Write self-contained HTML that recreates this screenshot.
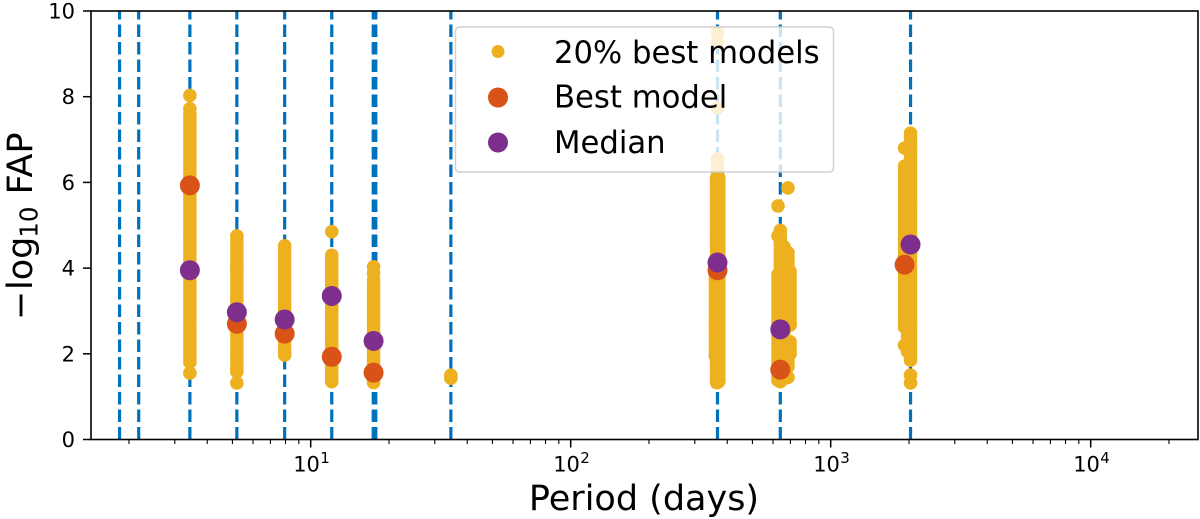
<!DOCTYPE html>
<html lang="en">
<head>
<meta charset="utf-8">
<title>FAP vs Period</title>
<style>
html,body{margin:0;padding:0;background:#fff;width:1200px;height:519px;overflow:hidden}
svg{display:block;font-family:"DejaVu Sans","Liberation Sans",sans-serif}
</style>
</head>
<body>
<svg id="chart" xmlns="http://www.w3.org/2000/svg" width="1200" height="519" viewBox="0 0 1200 519">
  <rect x="0" y="0" width="1200" height="519" fill="#ffffff"/>
  <g id="vlines"></g>
  <g id="scatter"></g>
  <g id="best"></g>
  <g id="median"></g>
  <g id="axes"></g>
  <g>
    <rect x="455.5" y="27" width="378" height="145" rx="4" ry="4" fill="#ffffff" fill-opacity="0.8" stroke="#cccccc" stroke-opacity="0.9" stroke-width="1.5"/>
    <circle cx="498" cy="51.5" r="6.5" fill="#EDB120"/>
    <text x="554" y="63" font-size="30.7" fill="#000">20% best models</text>
    <circle cx="498" cy="97.5" r="10" fill="#D95319"/>
    <text x="554" y="107.5" font-size="30.7" fill="#000">Best model</text>
    <circle cx="498" cy="142.5" r="10" fill="#7E2F8E"/>
    <text x="554" y="153" font-size="30.7" fill="#000">Median</text>
  </g>
  <text x="644" y="510" font-size="35" text-anchor="middle" fill="#000">Period (days)</text>
  <text transform="translate(32,318) rotate(-90)" font-size="35" fill="#000"><tspan x="-2" y="0">−</tspan><tspan x="28" y="0">log</tspan><tspan x="80.3" y="5.5" font-size="24.5">10</tspan><tspan x="123.6" y="0">FAP</tspan></text>
</svg>
<script>
// ---- data ----
const linePeriods = [1.84, 2.18, 3.43, 5.2, 7.94, 12.05, 17.4, 17.8, 34.6, 367, 640, 2028];
const yTicks = [0, 2, 4, 6, 8, 10];
const xDecades = [1, 2, 3, 4];

const bestPeriods = [3.43, 5.2, 7.94, 12.05, 17.45, 367, 640, 1924];
const bestFap = [5.93, 2.7, 2.47, 1.93, 1.56, 3.95, 1.63, 4.08];

const medianPeriods = [3.43, 5.2, 7.94, 12.05, 17.45, 367, 640, 2028];
const medianFap = [3.95, 2.97, 2.8, 3.35, 2.3, 4.13, 2.57, 4.55];

const clusterPeriods = [3.43, 5.2, 7.94, 12.05, 17.45, 34.6, 367, 364, 371.5, 360, 640, 627, 661, 685, 698, 2028, 1924, 1975];
const clusterFaps = [
  [8.03,7.72,7.6,7.5,7.4,7.3,7.2,7.1,7.0,6.9,6.8,6.7,6.6,6.5,6.4,6.3,6.2,6.1,6.0,5.9,5.8,5.7,5.6,5.5,5.4,5.3,5.2,5.1,5.0,4.9,4.8,4.7,4.6,4.5,4.4,4.3,4.2,4.1,4.0,3.9,3.8,3.7,3.6,3.5,3.4,3.3,3.2,3.1,3.0,2.9,2.8,2.7,2.6,2.5,2.4,2.3,2.2,2.1,2.0,1.9,1.8,1.55],
  [4.75,4.65,4.55,4.45,4.35,4.25,4.15,4.05,3.95,3.85,3.75,3.65,3.55,3.45,3.35,3.25,3.15,3.05,2.95,2.85,2.75,2.65,2.55,2.45,2.35,2.25,2.15,2.05,1.95,1.85,1.75,1.65,1.58,1.32],
  [4.52,4.42,4.32,4.22,4.12,4.02,3.92,3.82,3.72,3.62,3.52,3.42,3.32,3.22,3.12,3.02,2.92,2.82,2.72,2.62,2.52,2.42,2.32,2.22,2.12,2.02,1.97],
  [4.85,4.3,4.2,4.1,4.0,3.9,3.8,3.7,3.6,3.5,3.4,3.3,3.2,3.1,3.0,2.9,2.8,2.7,2.6,2.5,2.4,2.3,2.2,2.1,2.0,1.9,1.8,1.7,1.6,1.5,1.42,1.35],
  [4.03,3.88,3.72,3.62,3.52,3.42,3.32,3.22,3.12,3.02,2.92,2.82,2.72,2.62,2.52,2.42,2.32,2.22,2.12,2.02,1.92,1.82,1.72,1.62,1.52,1.42,1.33],
  [1.5,1.43],
  [9.49,9.27,7.74,6.55,6.45,6.35,6.25,6.15,6.05,5.95,5.85,5.75,5.65,5.55,5.45,5.35,5.25,5.15,5.05,4.95,4.85,4.75,4.65,4.55,4.45,4.35,4.25,4.15,4.05,3.95,3.85,3.75,3.65,3.55,3.45,3.35,3.25,3.15,3.05,2.95,2.85,2.75,2.65,2.55,2.45,2.35,2.25,2.15,2.05,1.95,1.85,1.75,1.65,1.55,1.45,1.33],
  [6.1,6.0,5.9,5.8,5.7,5.6,5.5,5.4,5.3,5.2,5.1,5.0,4.9,4.8,4.7,4.6,4.5,4.4,4.3,4.2,4.1,4.0,3.9,3.8,3.7,3.6,3.5,3.4,3.3,3.2,3.1,3.0,2.9,2.8,2.7,2.6,2.5,2.4,2.3,2.2,2.1,2.0,1.9,1.8,1.7,1.6,1.5,1.4,1.33],
  [6.1,6.0,5.9,5.8,5.7,5.6,5.5,5.4,5.3,5.2,5.1,5.0,4.9,4.8,4.7,4.6,4.5,4.4,4.3,4.2,4.1,4.0,3.9,3.8,3.7,3.6,3.5,3.4,3.3,3.2,3.1,3.0,2.9,2.8,2.7,2.6,2.5,2.4,2.3,2.2,2.1,2.0,1.9,1.8,1.7,1.6,1.5,1.4,1.36],
  [3.85,3.75,3.65,3.55,3.45,3.35,3.25,3.15,3.05,2.95,2.85,2.75,2.65,2.55,2.45,2.35,2.25,2.15,2.05,1.95],
  [4.88,4.75,4.65,4.55,4.45,4.35,4.25,4.15,4.05,3.95,3.85,3.75,3.65,3.55,3.45,3.35,3.25,3.15,3.05,2.95,2.85,2.75,2.65,2.55,2.45,2.35,2.25,2.15,2.05,1.95,1.85,1.75,1.65,1.55,1.45,1.35],
  [5.45,4.75,3.85,3.75,3.65,3.55,3.45,3.35,3.25,3.15,3.05,2.95,2.85,2.75,2.65,2.55,2.45,2.35,2.25,2.15,2.05,1.95,1.85,1.75,1.65,1.55,1.45,1.38],
  [4.5,4.4,4.3,4.2,4.1,4.0,3.9,3.8,3.7,3.6,3.5,3.4,3.3,3.2,3.1,3.0,2.9,2.8,2.7,2.6,2.5,2.4,2.3,2.2,2.1,2.0,1.9,1.8,1.7,1.6,1.5,1.42],
  [5.87,4.36,4.26,4.16,4.06,3.96,3.86,3.76,3.66,3.56,3.46,3.36,3.26,3.16,3.06,2.96,2.86,2.76,2.66,2.28,2.18,2.08,2.0,1.9,1.8,1.7,1.45],
  [3.92,3.82,3.72,3.62,3.52,3.42,3.32,3.22,3.12,3.02,2.92,2.82,2.72,2.67,2.28,2.18,2.08,2.0],
  [7.15,7.05,6.95,6.85,6.75,6.65,6.55,6.45,6.35,6.25,6.15,6.05,5.95,5.85,5.75,5.65,5.55,5.45,5.35,5.25,5.15,5.05,4.95,4.85,4.75,4.65,4.55,4.45,4.35,4.25,4.15,4.05,3.95,3.85,3.75,3.65,3.55,3.45,3.35,3.25,3.15,3.05,2.95,2.85,2.75,2.65,2.55,2.45,2.35,2.25,2.15,2.05,1.95,1.85,1.5,1.32],
  [6.8,6.38,6.28,6.18,6.08,5.98,5.88,5.78,5.68,5.58,5.48,5.38,5.28,5.18,5.08,4.98,4.88,4.78,4.68,4.58,4.48,4.38,4.28,4.18,4.08,3.98,3.88,3.78,3.68,3.58,3.48,3.38,3.28,3.18,3.08,2.98,2.88,2.78,2.68,2.62,2.2],
  [6.2,6.0,5.8,5.6,5.4,5.2,5.0,4.8,4.6,4.4,4.2,4.0,3.8,3.6,3.4,3.2,3.0,2.8,2.6,2.4,2.2,2.05]
];

// ---- axis functions ----
const NS = 'http://www.w3.org/2000/svg';
const LEFT = 91, RIGHT = 1198, TOP = 11, BOTTOM = 439.5;
const DECADE_PX = 260, X_AT_10 = 310.7;
const xScale = p => X_AT_10 + (Math.log10(p) - 1) * DECADE_PX;
const yScale = v => BOTTOM - v * (BOTTOM - TOP) / 10;

function make(tag, attrs, parent) {
  const el = document.createElementNS(NS, tag);
  for (const k in attrs) el.setAttribute(k, attrs[k]);
  parent.appendChild(el);
  return el;
}

const vlines = document.getElementById('vlines');
const scatter = document.getElementById('scatter');
const best = document.getElementById('best');
const median = document.getElementById('median');
const axes = document.getElementById('axes');

// vertical dashed lines
linePeriods.forEach(p => {
  const x = xScale(p);
  const el = make('line', {x1: x, x2: x, y1: BOTTOM, y2: TOP, stroke: '#0072BD', 'stroke-width': 3.2, 'stroke-dasharray': '12.5 5'}, vlines);
  
  
});

// 20% best models
clusterPeriods.forEach((p, i) => {
  clusterFaps[i].forEach(v => {
    const el = make('circle', {cx: xScale(p), cy: yScale(v), r: 6.8, fill: '#EDB120'}, scatter);
    
    
  });
});

// best model
bestPeriods.forEach((p, i) => {
  const el = make('circle', {cx: xScale(p), cy: yScale(bestFap[i]), r: 10, fill: '#D95319'}, best);
  
  
});

// median
medianPeriods.forEach((p, i) => {
  const el = make('circle', {cx: xScale(p), cy: yScale(medianFap[i]), r: 10, fill: '#7E2F8E'}, median);
  
  
});

// frame
const frame = make('rect', {x: LEFT, y: TOP, width: RIGHT - LEFT, height: BOTTOM - TOP, fill: 'none', stroke: '#000', 'stroke-width': 1.6}, axes);



// y ticks
yTicks.forEach(v => {
  const y = yScale(v);
  const t = make('line', {x1: LEFT - 8, x2: LEFT, y1: y, y2: y, stroke: '#000', 'stroke-width': 1.5}, axes);
  
  
  const l = make('text', {x: 75, y: y + 7.5, 'font-size': 21, 'text-anchor': 'end', fill: '#000'}, axes);
  
  
  l.textContent = String(v);
});

// x major ticks and labels
xDecades.forEach(d => {
  const x = xScale(Math.pow(10, d));
  const t = make('line', {x1: x, x2: x, y1: BOTTOM, y2: BOTTOM + 8, stroke: '#000', 'stroke-width': 1.5}, axes);
  
  
  const l = make('text', {x: x - 17.5, y: 471.5, 'font-size': 21, fill: '#000'}, axes);
  
  
  l.textContent = '10';
  const s = make('text', {x: x + 9.5, y: 463, 'font-size': 15, fill: '#000'}, axes);
  
  
  s.textContent = String(d);
});

// x minor ticks
[0, 1, 2, 3, 4].forEach(d => {
  [2, 3, 4, 5, 6, 7, 8, 9].forEach(m => {
    const x = xScale(m * Math.pow(10, d));
    if (x <= LEFT || x >= RIGHT) return;
    const t = make('line', {x1: x, x2: x, y1: BOTTOM, y2: BOTTOM + 4.5, stroke: '#000', 'stroke-width': 1.1}, axes);
    
    
  });
});
</script>
</body>
</html>
